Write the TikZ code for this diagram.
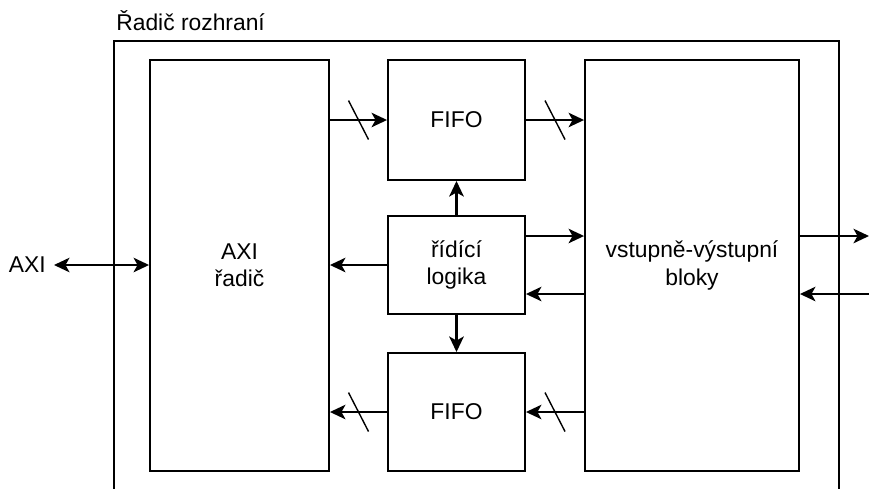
\documentclass[tikz,border=0pt]{standalone}
\usepackage{fontspec}
\setmainfont{Liberation Sans}
\usetikzlibrary{arrows.meta, positioning, decorations.markings}

\begin{document}
\begin{tikzpicture}[
    x=0.02cm, y=-0.02cm,
    block/.style={rectangle, draw, line width=1.1pt, align=center, inner sep=0pt, font=\fontsize{13}{15.5}\selectfont},
    tag/.style={inner sep=0pt, font=\fontsize{13}{15.5}\selectfont},
    arrow/.style={-{Stealth[length=3.1mm, width=2.9mm, inset=0.8mm]}, line width=1.1pt},
    biarrow/.style={{Stealth[length=3.1mm, width=2.9mm, inset=0.8mm]}-{Stealth[length=3.1mm, width=2.9mm, inset=0.8mm]}, line width=1.1pt},
    bus/.style={postaction={decorate, decoration={markings, mark=at position 0.5 with {\draw[-, line width=0.8pt] (-0.2cm,0.39cm) -- (0.2cm,-0.39cm);}}}},
]
\useasboundingbox (0,0) rectangle (869,488);
\clip (0,0) rectangle (869,488);

% outer frame
\node[block, minimum width=14.5cm, minimum height=9.4cm, anchor=north west] (ctrl) at (113,40) {};
\node[tag, anchor=base west] (title) at (116,30) {Řadič rozhraní};

% blocks
\node[block, minimum width=3.58cm, minimum height=8.22cm] (axi) at (239.5,265.5) {AXI\\řadič};
\node[block, minimum width=2.74cm, minimum height=2.4cm] (fifotop) at (456.5,120) {FIFO};
\node[block, minimum width=2.74cm, minimum height=1.96cm] (logic) at (456.5,265) {řídící\\logika};
\node[block, minimum width=2.74cm, minimum height=2.36cm] (fifobot) at (456.5,412) {FIFO};
\node[block, minimum width=4.28cm, minimum height=8.22cm] (io) at (692,265.5) {vstupně-výstupní\\bloky};
\node[tag, anchor=east] (axiport) at (46,265) {AXI};

\coordinate (outA) at (869,236);
\coordinate (inB) at (869,294);

% connections
\draw[biarrow] (axiport.east) ++(8,0) -- (axiport.east -| axi.west);
\draw[arrow, bus] (fifotop.west -| axi.east) -- (fifotop.west);
\draw[arrow, bus] (fifotop.east) -- (fifotop.east -| io.west);
\draw[arrow, bus] (fifobot.west) -- (fifobot.west -| axi.east);
\draw[arrow, bus] (fifobot.east -| io.west) -- (fifobot.east);
\draw[arrow] (logic.west) -- (logic.west -| axi.east);
\draw[arrow, line width=1.6pt] (logic.north) -- (fifotop.south);
\draw[arrow, line width=1.6pt] (logic.south) -- (fifobot.north);
\draw[arrow] (logic.east |- outA) -- (io.west |- outA);
\draw[arrow] (io.west |- inB) -- (logic.east |- inB);
\draw[arrow] (io.east |- outA) -- (outA);
\draw[arrow] (inB) -- (io.east |- inB);

\end{tikzpicture}
\end{document}
